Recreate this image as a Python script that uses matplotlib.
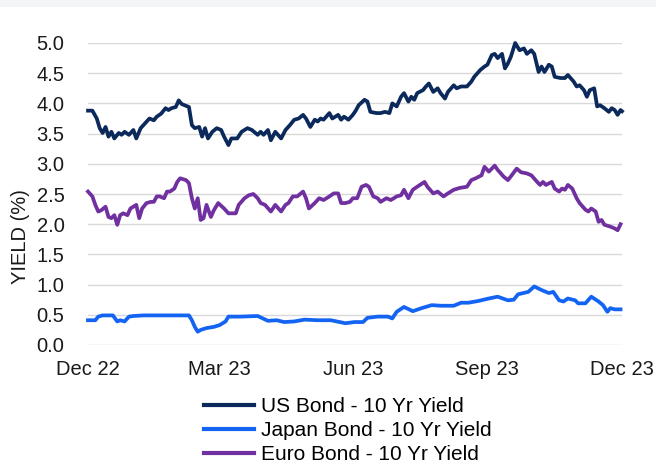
import matplotlib
matplotlib.use("Agg")
import matplotlib.pyplot as plt
import pandas as pd
from matplotlib.patches import Rectangle

# ---------------- data (days since 2022-12-31, yield %) ----------------
start_date = "2022-12-31"

us_days = [0, 3, 6, 8, 10, 12, 14, 16, 18, 21, 23, 25, 28, 31, 33, 36, 39, 42, 45, 47,
           50, 53, 55, 57, 60, 62, 64, 66, 69, 71, 73, 76, 78, 80, 82, 85, 88, 91,
           93, 96, 98, 102, 105, 109, 112, 116, 118, 120, 123, 125, 128, 132, 135, 138,
           141, 144, 147, 149, 152, 155, 157, 159, 161, 165, 167, 171, 173, 175, 178, 181,
           183, 185, 189, 191, 193, 197, 200, 203, 206, 208, 211, 214, 216, 219, 221, 223,
           225, 229, 231, 233, 236, 239, 241, 244, 246, 250, 252, 255, 259, 262, 264, 268,
           271, 273, 276, 278, 280, 283, 285, 287, 289, 292, 295, 298, 300, 303, 305, 308,
           310, 312, 315, 317, 319, 323, 326, 328, 332, 334, 336, 339, 341, 343, 346, 348,
           350, 353, 356, 358, 360, 362, 364, 365]
us_vals = [3.88, 3.88, 3.75, 3.59, 3.51, 3.61, 3.45, 3.53, 3.42, 3.51, 3.48, 3.53, 3.48, 3.56, 3.42, 3.59, 3.67, 3.75, 3.72, 3.78,
           3.83, 3.92, 3.89, 3.92, 3.94, 4.05, 3.99, 3.97, 3.94, 3.64, 3.59, 3.61, 3.45, 3.59, 3.42, 3.53, 3.59, 3.56,
           3.45, 3.31, 3.42, 3.42, 3.53, 3.59, 3.56, 3.48, 3.53, 3.48, 3.56, 3.39, 3.53, 3.42, 3.56, 3.64,
           3.73, 3.75, 3.81, 3.75, 3.61, 3.73, 3.70, 3.75, 3.73, 3.84, 3.75, 3.81, 3.73, 3.78, 3.73, 3.81,
           3.88, 3.97, 4.06, 4.03, 3.86, 3.84, 3.84, 3.86, 3.84, 4.00, 3.95, 4.11, 4.17, 4.03, 4.11, 4.06,
           4.17, 4.22, 4.28, 4.33, 4.19, 4.25, 4.17, 4.08, 4.19, 4.30, 4.25, 4.28, 4.28, 4.36, 4.44, 4.55,
           4.61, 4.64, 4.80, 4.82, 4.75, 4.82, 4.58, 4.66, 4.77, 5.00, 4.88, 4.91, 4.82, 4.88, 4.82, 4.52,
           4.61, 4.52, 4.64, 4.61, 4.44, 4.42, 4.42, 4.47, 4.36, 4.28, 4.30, 4.22, 4.11, 4.22, 4.25, 3.95,
           3.97, 3.92, 3.86, 3.92, 3.89, 3.81, 3.89, 3.87]

jp_days = [0, 5, 7, 10, 17, 20, 22, 25, 28, 31, 38, 54, 69, 71, 73, 75, 77, 81, 86, 90, 94, 96,
           104, 116, 123, 129, 134, 141, 148, 157, 166, 176, 182, 188, 191, 198, 205, 208, 211,
           216, 222, 228, 235, 241, 250, 255, 260, 267, 274, 280, 287, 291, 294, 301, 305, 310,
           315, 318, 322, 325, 328, 333, 335, 340, 344, 349, 352, 355, 357, 360, 364]
jp_vals = [0.41, 0.41, 0.47, 0.49, 0.49, 0.39, 0.41, 0.39, 0.47, 0.48, 0.49, 0.49, 0.49, 0.41, 0.30, 0.22, 0.25, 0.28, 0.30, 0.33, 0.39, 0.47,
           0.47, 0.48, 0.40, 0.41, 0.38, 0.39, 0.42, 0.41, 0.41, 0.36, 0.38, 0.38, 0.45, 0.47, 0.47, 0.44, 0.55,
           0.63, 0.56, 0.61, 0.66, 0.65, 0.65, 0.70, 0.70, 0.73, 0.77, 0.80, 0.74, 0.75, 0.84, 0.88, 0.97, 0.91,
           0.86, 0.88, 0.74, 0.72, 0.77, 0.74, 0.69, 0.69, 0.80, 0.72, 0.66, 0.55, 0.61, 0.59, 0.59]

eu_days = [0, 3, 5, 7, 9, 12, 14, 16, 18, 20, 22, 24, 27, 29, 31, 33, 35, 37, 40, 43, 45, 47, 49,
           52, 54, 56, 59, 61, 63, 67, 69, 71, 73, 75, 77, 79, 81, 84, 86, 89, 93,
           96, 101, 103, 107, 110, 113, 116, 118, 121, 125, 128, 132, 135, 137, 140, 143, 147, 149,
           151, 155, 158, 161, 165, 168, 171, 173, 176, 179, 181, 184,
           187, 190, 192, 195, 198, 200, 204, 207, 211, 214, 216, 219, 222, 225, 230, 232, 236,
           239, 243, 246, 250, 254, 259, 262, 265, 269, 271, 274, 276,
           278, 280, 284, 287, 289, 293, 296, 300, 303, 307, 309, 311, 313, 317, 319, 322, 324,
           326, 328, 331, 334, 336, 340, 342, 344, 347, 349, 351, 353, 357, 360, 362, 364]
eu_vals = [2.54, 2.46, 2.32, 2.21, 2.23, 2.29, 2.12, 2.10, 2.15, 1.99, 2.15, 2.18, 2.15, 2.26, 2.29, 2.32, 2.10, 2.26, 2.35, 2.37, 2.37, 2.46, 2.46,
           2.43, 2.54, 2.54, 2.59, 2.70, 2.76, 2.73, 2.68, 2.43, 2.26, 2.43, 2.07, 2.10, 2.32, 2.12, 2.23, 2.35, 2.26,
           2.18, 2.18, 2.32, 2.43, 2.48, 2.50, 2.43, 2.35, 2.32, 2.21, 2.32, 2.21, 2.32, 2.35, 2.46, 2.46, 2.54, 2.43,
           2.26, 2.35, 2.43, 2.40, 2.46, 2.51, 2.51, 2.35, 2.35, 2.37, 2.43, 2.43,
           2.62, 2.65, 2.62, 2.46, 2.43, 2.37, 2.43, 2.40, 2.46, 2.48, 2.57, 2.43, 2.57, 2.62, 2.70, 2.62, 2.51,
           2.54, 2.46, 2.51, 2.57, 2.60, 2.62, 2.73, 2.76, 2.81, 2.95, 2.87, 2.92,
           2.97, 2.90, 2.79, 2.73, 2.79, 2.92, 2.86, 2.84, 2.81, 2.70, 2.65, 2.70, 2.65, 2.70, 2.59, 2.54, 2.59,
           2.57, 2.65, 2.59, 2.43, 2.35, 2.24, 2.21, 2.26, 2.21, 2.04, 2.07, 1.99, 1.96, 1.93, 1.90, 2.00]

series_names = ["US Bond - 10 Yr Yield", "Japan Bond - 10 Yr Yield", "Euro Bond - 10 Yr Yield"]
series_colors = ["#0B2A5B", "#1464F4", "#7030A0"]

tick_dates = ["2022-12-31", "2023-03-31", "2023-06-30", "2023-09-30", "2023-12-31"]
tick_labels = ["Dec 22", "Mar 23", "Jun 23", "Sep 23", "Dec 23"]
y_ticks = [0.0, 0.5, 1.0, 1.5, 2.0, 2.5, 3.0, 3.5, 4.0, 4.5, 5.0]

# ---------------- plot ----------------
plt.rcParams["font.family"] = ["Liberation Sans", "DejaVu Sans"]

fig = plt.figure(figsize=(6.56, 4.68), dpi=100)
fig.patch.set_facecolor("white")
fig.patches.append(Rectangle((0, 1 - 7 / 468), 1, 7 / 468, transform=fig.transFigure,
                             facecolor="#F4F5F7", edgecolor="none", zorder=0))

ax = fig.add_axes([88 / 656, 1 - 345 / 468, (622 - 88) / 656, (345 - 43) / 468])

base = pd.Timestamp(start_date)
def to_dates(days):
    return base + pd.to_timedelta(days, unit="D")

for days, vals, name, col in zip([us_days, jp_days, eu_days], [us_vals, jp_vals, eu_vals],
                                 series_names, series_colors):
    ax.plot(to_dates(days), vals, color=col, lw=2.7, label=name, clip_on=False,
            solid_joinstyle="round", zorder=3)

ax.set_ylim(0, 5.0)
ax.set_xlim(pd.Timestamp("2022-12-31"), pd.Timestamp("2023-12-31"))
ax.set_yticks(y_ticks)
ax.set_yticklabels([f"{v:.1f}" for v in y_ticks])
ax.set_xticks(pd.to_datetime(tick_dates))
ax.set_xticklabels(tick_labels)

ax.grid(axis="y", color="#D9D9D9", lw=1.0)
ax.set_axisbelow(True)
for s in ax.spines.values():
    s.set_visible(False)
ax.tick_params(axis="both", length=0, labelsize=14.5, labelcolor="#1A1A1A")
ax.tick_params(axis="y", pad=17)
ax.tick_params(axis="x", pad=11)

ax.set_ylabel("YIELD (%)", fontsize=14.5, color="#1A1A1A")
ax.yaxis.set_label_coords(-0.108, 0.36)

leg = fig.legend(loc="center", bbox_to_anchor=(348 / 656, 1 - 431 / 468), frameon=False,
                 fontsize=15, handlelength=2.4, handletextpad=0.35, labelspacing=0.24)
for h in leg.get_lines():
    h.set_linewidth(3)

fig.savefig("out.png", dpi=100)
